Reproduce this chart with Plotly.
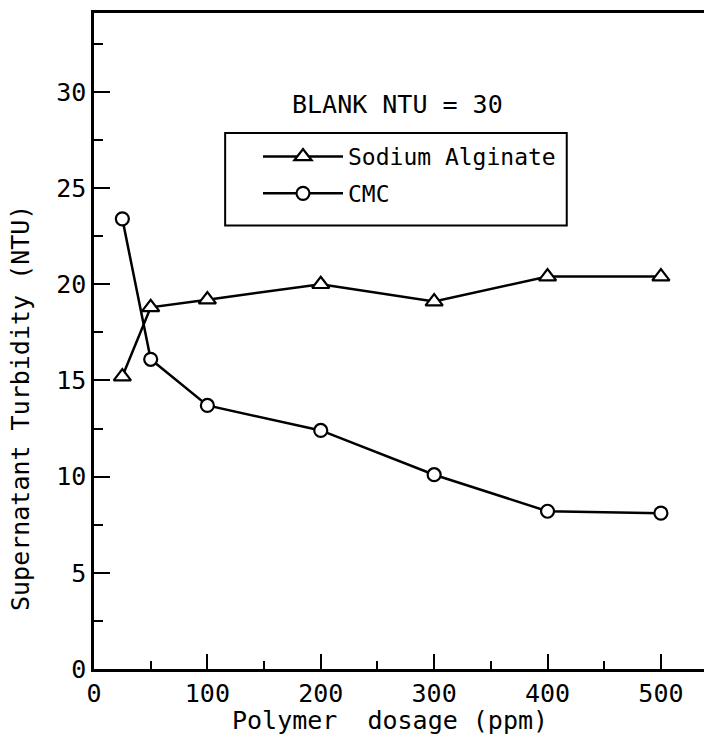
import plotly.graph_objects as go

dosage = [25, 50, 100, 200, 300, 400, 500]
sodium_alginate = [15.2, 18.8, 19.2, 20.0, 19.1, 20.4, 20.4]
cmc = [23.4, 16.1, 13.7, 12.4, 10.1, 8.2, 8.1]

x_ticks = [0, 100, 200, 300, 400, 500]
y_ticks = [0, 5, 10, 15, 20, 25, 30]

FONT = "DejaVu Sans Mono"

fig = go.Figure()
fig.add_trace(go.Scatter(
    x=dosage, y=sodium_alginate, mode="lines+markers", name="Sodium Alginate",
    legendgroup="a",
    line=dict(color="black", width=2.5),
    marker=dict(symbol="triangle-up", size=15, color="white",
                line=dict(color="black", width=2.2)),
))
fig.add_trace(go.Scatter(
    x=dosage, y=cmc, mode="lines+markers", name="CMC",
    legendgroup="b",
    line=dict(color="black", width=2.5),
    marker=dict(symbol="circle", size=13, color="white",
                line=dict(color="black", width=2.2)),
))

fig.update_layout(
    width=704, height=741,
    margin=dict(l=94, r=0, t=13, b=72),
    paper_bgcolor="white", plot_bgcolor="white",
    font=dict(family=FONT, size=25, color="black"),
    showlegend=True,
    legend=dict(
        x=(258 - 94) / 610, y=0.814, xanchor="left", yanchor="top",
        bgcolor="rgba(0,0,0,0)", borderwidth=0,
        font=dict(family=FONT, size=23, color="black"),
        itemwidth=80, tracegroupgap=4,
    ),
    shapes=[dict(type="rect", xref="paper", yref="paper",
                 x0=0.215, x1=0.775, y0=0.676, y1=0.817,
                 line=dict(color="black", width=2), fillcolor="rgba(0,0,0,0)")],
    annotations=[
        dict(text="BLANK NTU = 30", xref="paper", yref="paper",
             x=0.497, y=0.861, xanchor="center", yanchor="middle", showarrow=False,
             font=dict(family=FONT, size=25, color="black")),
        dict(text="Polymer  dosage (ppm)", xref="paper", yref="paper",
             x=0.485, y=0, yshift=-51, xanchor="center", yanchor="middle",
             showarrow=False, font=dict(family=FONT, size=25, color="black")),
        dict(text="Supernatant Turbidity (NTU)", xref="paper", yref="paper",
             x=0, xshift=-73, y=(669 - 408) / 656, xanchor="center", yanchor="middle",
             textangle=-90, showarrow=False,
             font=dict(family=FONT, size=25, color="black")),
    ],
)

fig.update_xaxes(
    range=[0, 538], tickvals=x_ticks, ticktext=[str(v) for v in x_ticks],
    ticks="inside", ticklen=15, tickwidth=2, tickcolor="black",
    minor=dict(dtick=50, tick0=0, ticks="inside", ticklen=8, tickwidth=2, tickcolor="black"),
    showline=True, linecolor="black", linewidth=2.5, mirror=True,
    showgrid=False, zeroline=False,
    tickfont=dict(family=FONT, size=25),
)
fig.update_yaxes(
    range=[0, 34.1], tickvals=y_ticks, ticktext=[str(v) for v in y_ticks],
    ticks="inside", ticklen=16, tickwidth=2, tickcolor="black",
    minor=dict(dtick=2.5, tick0=0, ticks="inside", ticklen=9, tickwidth=2, tickcolor="black"),
    showline=True, linecolor="black", linewidth=2.5, mirror=False,
    showgrid=False, zeroline=False,
    tickfont=dict(family=FONT, size=25),
)

fig.write_html("out.html")
